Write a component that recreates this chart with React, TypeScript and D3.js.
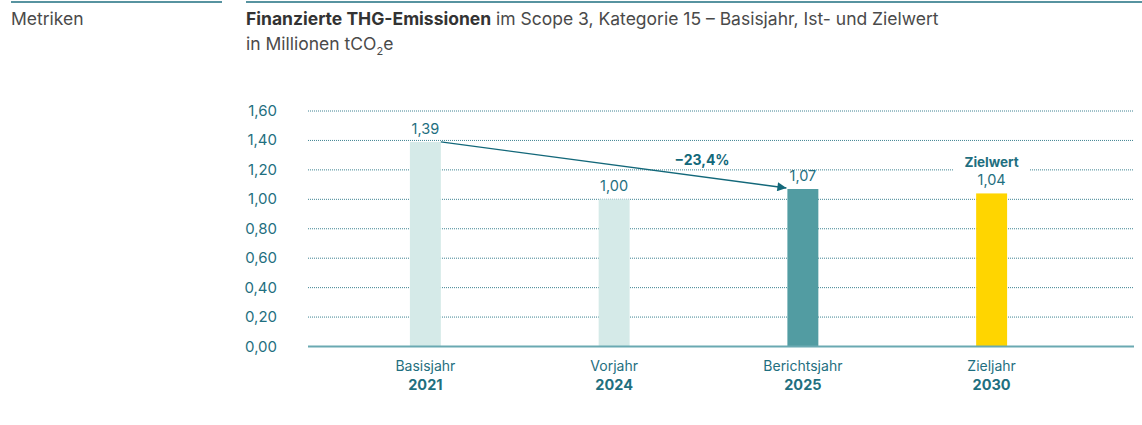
import { useEffect, useRef } from 'react';
import * as d3 from 'd3';

const categories = ['Basisjahr', 'Vorjahr', 'Berichtsjahr', 'Zieljahr'];
const years = ['2021', '2024', '2025', '2030'];
const values = [1.39, 1.0, 1.07, 1.04];
const barColors = ['#d5eae8', '#d5eae8', '#529ca2', '#ffd500'];
const yTicks = [0, 0.2, 0.4, 0.6, 0.8, 1.0, 1.2, 1.4, 1.6];
const changeLabel = '\u221223,4%';

const TEAL = '#1f6f80';
const FONT = 'Inter, "Noto Sans", sans-serif';

const fmt = (v: number) => v.toFixed(2).replace('.', ',');

export default function App() {
  const svgRef = useRef<SVGSVGElement>(null);

  useEffect(() => {
    if (!svgRef.current) return;
    const svg = d3.select(svgRef.current);
    svg.selectAll('*').remove();

    // header
    svg.append('line').attr('x1', 11).attr('x2', 222).attr('y1', 2).attr('y2', 2)
      .attr('stroke', TEAL).attr('stroke-width', 1.5);
    svg.append('line').attr('x1', 246).attr('x2', 1142).attr('y1', 2).attr('y2', 2)
      .attr('stroke', TEAL).attr('stroke-width', 1.5);

    svg.append('text').attr('x', 11).attr('y', 25).attr('font-size', 17.5)
      .attr('fill', '#4a4a4a').text('Metriken');

    const t1 = svg.append('text').attr('x', 246).attr('y', 25).attr('font-size', 17.5).attr('fill', '#4a4a4a');
    t1.append('tspan').attr('font-weight', 700).attr('fill', '#333').text('Finanzierte THG-Emissionen');
    t1.append('tspan').text(' im Scope 3, Kategorie 15 \u2013 Basisjahr, Ist- und Zielwert');

    const t2 = svg.append('text').attr('x', 246).attr('y', 50).attr('font-size', 17.5).attr('fill', '#4a4a4a');
    t2.append('tspan').text('in Millionen tCO');
    t2.append('tspan').attr('font-size', 11).attr('dy', 5).text('2');
    t2.append('tspan').attr('dy', -5).text('e');

    // scales
    const x = d3.scaleBand<string>().domain(categories).range([331, 1086]).paddingInner(0.836).paddingOuter(0.418);
    const y = d3.scaleLinear().domain([0, 1.6]).range([346.5, 111]);
    const gridLeft = 308;
    const gridRight = 1134;

    // grid
    yTicks.filter(t => t > 0).forEach(t => {
      svg.append('line').attr('x1', gridLeft).attr('x2', gridRight)
        .attr('y1', y(t)).attr('y2', y(t))
        .attr('stroke', TEAL).attr('stroke-width', 1).attr('stroke-dasharray', '1,1').attr('opacity', 0.85);
    });

    // y labels
    svg.append('g').selectAll('text').data(yTicks).join('text')
      .attr('x', 277).attr('y', d => y(d) + 5).attr('text-anchor', 'end')
      .attr('font-size', 15).attr('fill', TEAL).text(d => fmt(d));

    // white gap behind "Zielwert"
    svg.append('rect').attr('x', (x('Zieljahr') as number) + x.bandwidth() / 2 - 38)
      .attr('y', y(1.2) - 3).attr('width', 76).attr('height', 6).attr('fill', '#fff');

    // bars
    svg.append('g').selectAll('rect').data(values).join('rect')
      .attr('x', (_, i) => x(categories[i]) as number)
      .attr('y', d => y(d))
      .attr('width', x.bandwidth())
      .attr('height', d => y(0) - y(d))
      .attr('fill', (_, i) => barColors[i]);

    // baseline
    svg.append('line').attr('x1', gridLeft).attr('x2', gridRight).attr('y1', y(0)).attr('y2', y(0))
      .attr('stroke', '#6aa9b2').attr('stroke-width', 2);

    // value labels
    svg.append('g').selectAll('text').data(values).join('text')
      .attr('x', (_, i) => (x(categories[i]) as number) + x.bandwidth() / 2)
      .attr('y', d => y(d) - 8).attr('text-anchor', 'middle')
      .attr('font-size', 14.5).attr('fill', TEAL).text(d => fmt(d));

    svg.append('text').attr('x', (x('Zieljahr') as number) + x.bandwidth() / 2).attr('y', y(1.04) - 26)
      .attr('text-anchor', 'middle').attr('font-size', 13.5).attr('font-weight', 700).attr('fill', TEAL)
      .text('Zielwert');

    // x labels
    const xl = svg.append('g');
    categories.forEach((c, i) => {
      const cx = (x(c) as number) + x.bandwidth() / 2;
      xl.append('text').attr('x', cx).attr('y', 371).attr('text-anchor', 'middle')
        .attr('font-size', 14).attr('fill', TEAL).text(c);
      xl.append('text').attr('x', cx).attr('y', 390).attr('text-anchor', 'middle')
        .attr('font-size', 14.5).attr('font-weight', 700).attr('fill', TEAL).text(years[i]);
    });

    // arrow from base year to reporting year
    const defs = svg.append('defs');
    defs.append('marker').attr('id', 'arrowhead').attr('viewBox', '0 0 10 10')
      .attr('refX', 10).attr('refY', 5).attr('markerWidth', 11).attr('markerHeight', 9)
      .attr('markerUnits', 'userSpaceOnUse').attr('orient', 'auto')
      .append('path').attr('d', 'M0,0 L10,5 L0,10 Z').attr('fill', '#13687a');

    const x0 = (x('Basisjahr') as number) + x.bandwidth();
    const x1 = x('Berichtsjahr') as number;
    svg.append('line').attr('x1', x0).attr('y1', y(values[0]))
      .attr('x2', x1 - 1).attr('y2', y(values[2]) - 1)
      .attr('stroke', '#13687a').attr('stroke-width', 1.3).attr('marker-end', 'url(#arrowhead)');

    svg.append('text').attr('x', 702).attr('y', 165).attr('text-anchor', 'middle')
      .attr('font-size', 14).attr('font-weight', 700).attr('fill', '#13687a').text(changeLabel);
  }, []);

  return (
    <svg ref={svgRef} width={1142} height={425}
      style={{ position: 'absolute', left: 0, top: 0, fontFamily: FONT, background: '#fff' }} />
  );
}
